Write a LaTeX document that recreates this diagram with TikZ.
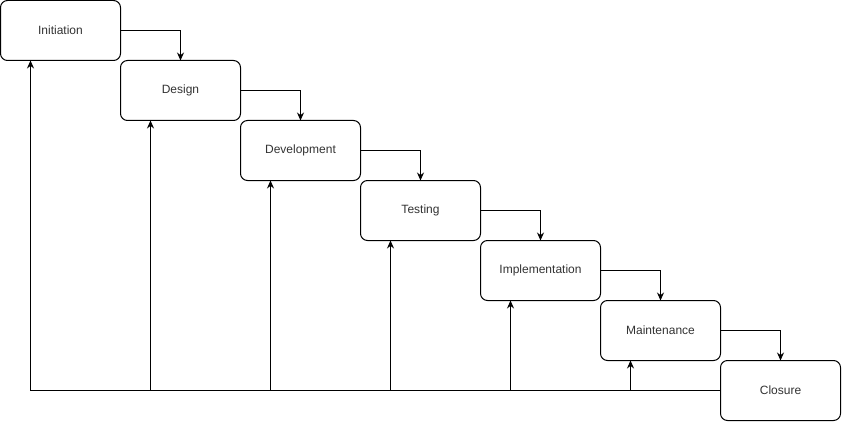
\documentclass[tikz,border=0pt]{standalone}
\usepackage{fontspec}
\setmainfont{Liberation Sans}
\usetikzlibrary{arrows.meta,calc}
\begin{document}
\begin{tikzpicture}[x=1pt,y=-1pt,
  phase/.style={draw=black,line width=1pt,rounded corners=7pt,fill=white,
    minimum width=120pt,minimum height=60pt,inner sep=0pt,outer sep=0pt,
    font=\fontsize{12pt}{14pt}\selectfont,text=black!80},
  flow/.style={line width=1pt,-{Stealth[length=8pt,width=7pt]}},
  plain/.style={line width=1pt}]
\useasboundingbox (0,0) rectangle (842,422);
\node[phase] (a1) at (60.5,30.5) {Initiation};
\node[phase] (a2) at (180.5,90.5) {Design};
\node[phase] (a3) at (300.5,150.5) {Development};
\node[phase] (a4) at (420.5,210.5) {Testing};
\node[phase] (a5) at (540.5,270.5) {Implementation};
\node[phase] (a6) at (660.5,330.5) {Maintenance};
\node[phase] (a7) at (780.5,390.5) {Closure};
\foreach \i/\j in {1/2,2/3,3/4,4/5,5/6,6/7}{
  \draw[flow] (a\i.east) -| (a\j.north);
}
\foreach \i in {1,...,6}{
  \coordinate (q\i) at ($(a\i.south west)!0.25!(a\i.south east)$);
}
\draw[flow] (a7.west) -| (q1);
\foreach \i in {2,...,6}{
  \draw[flow] (q\i |- a7.west) -- (q\i);
}
\end{tikzpicture}
\end{document}
